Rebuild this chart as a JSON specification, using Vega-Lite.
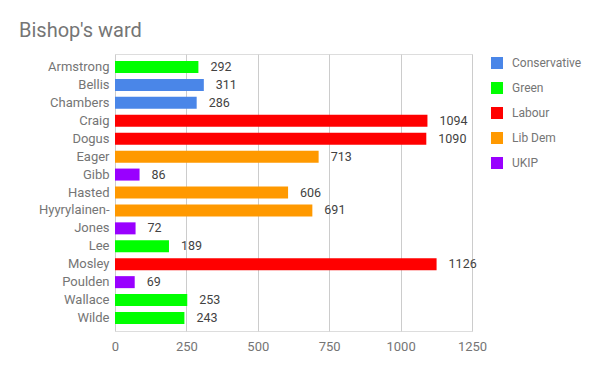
{
  "$schema": "https://vega.github.io/schema/vega-lite/v6.json",
  "width": 357,
  "height": 277,
  "autosize": "none",
  "padding": {"left": 115, "top": 54, "right": 128, "bottom": 40},
  "background": "white",
  "title": {
    "text": "Bishop's ward",
    "anchor": "start",
    "frame": "group",
    "dx": -96,
    "offset": 13,
    "font": "Roboto",
    "fontSize": 20,
    "fontWeight": "normal",
    "color": "#757575"
  },
  "data": {
    "values": [
      {"candidate": "Armstrong", "party": "Green", "votes": 292},
      {"candidate": "Bellis", "party": "Conservative", "votes": 311},
      {"candidate": "Chambers", "party": "Conservative", "votes": 286},
      {"candidate": "Craig", "party": "Labour", "votes": 1094},
      {"candidate": "Dogus", "party": "Labour", "votes": 1090},
      {"candidate": "Eager", "party": "Lib Dem", "votes": 713},
      {"candidate": "Gibb", "party": "UKIP", "votes": 86},
      {"candidate": "Hasted", "party": "Lib Dem", "votes": 606},
      {"candidate": "Hyyrylainen-", "party": "Lib Dem", "votes": 691},
      {"candidate": "Jones", "party": "UKIP", "votes": 72},
      {"candidate": "Lee", "party": "Green", "votes": 189},
      {"candidate": "Mosley", "party": "Labour", "votes": 1126},
      {"candidate": "Poulden", "party": "UKIP", "votes": 69},
      {"candidate": "Wallace", "party": "Green", "votes": 253},
      {"candidate": "Wilde", "party": "Green", "votes": 243}
    ]
  },
  "encoding": {
    "y": {
      "field": "candidate",
      "type": "nominal",
      "sort": null,
      "scale": {"paddingInner": 0.33, "paddingOuter": 0.39},
      "axis": {
        "title": null,
        "ticks": false,
        "domain": false,
        "labelFont": "Roboto",
        "labelFontSize": 13,
        "labelColor": "#757575",
        "labelPadding": 6
      }
    },
    "x": {
      "field": "votes",
      "type": "quantitative",
      "scale": {"domain": [0, 1250], "nice": false},
      "axis": {
        "title": null,
        "values": [0, 250, 500, 750, 1000, 1250],
        "format": "d",
        "labelFlush": false,
        "ticks": false,
        "domain": false,
        "gridColor": "#cccccc",
        "labelFont": "Roboto",
        "labelFontSize": 13,
        "labelColor": "#757575",
        "labelPadding": 9
      }
    }
  },
  "layer": [
    {
      "mark": {"type": "bar"},
      "encoding": {
        "color": {
          "field": "party",
          "type": "nominal",
          "scale": {
            "domain": ["Conservative", "Green", "Labour", "Lib Dem", "UKIP"],
            "range": ["#4a86e8", "#00ff00", "#ff0000", "#ff9900", "#9900ff"]
          },
          "legend": {
            "title": null,
            "orient": "none",
            "legendX": 376,
            "legendY": 3,
            "padding": 0,
            "symbolType": "square",
            "symbolSize": 144,
            "symbolStrokeWidth": 0,
            "symbolOpacity": 1,
            "labelFont": "Roboto",
            "labelFontSize": 12,
            "labelColor": "#757575",
            "labelOffset": 9,
            "rowPadding": 13
          }
        }
      }
    },
    {
      "mark": {
        "type": "text",
        "align": "left",
        "dx": 12,
        "font": "Roboto",
        "fontSize": 12.5,
        "color": "#424242"
      },
      "encoding": {"text": {"field": "votes", "type": "quantitative"}}
    },
    {
      "mark": {"type": "rule", "color": "#333333", "y": -1, "y2": 279},
      "encoding": {"x": {"datum": 0}}
    }
  ]
}
